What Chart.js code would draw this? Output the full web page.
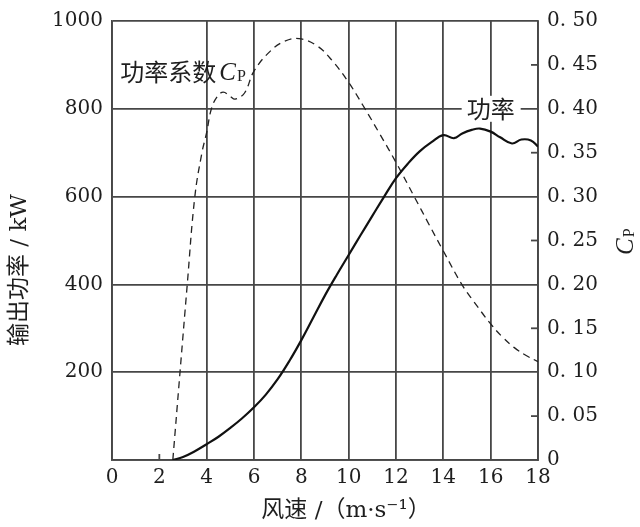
<!DOCTYPE html>
<html>
<head>
<meta charset="utf-8">
<script src="https://cdn.jsdelivr.net/npm/chart.js@4/dist/chart.umd.min.js"></script>
<style>
  html, body { margin: 0; padding: 0; background: #fff; }
  #wrap { width: 640px; height: 527px; position: relative; }
</style>
</head>
<body>
<div id="wrap"><canvas id="chart"></canvas></div>
<script>
// wind speed (m/s) and output power (kW) of the solid curve
const powerWind = [2.57, 3, 3.5, 4, 4.5, 5, 5.5, 6, 6.5, 7, 7.5, 8, 8.5, 9, 9.5, 10, 10.5, 11, 11.5, 12,
                   12.5, 13, 13.5, 14, 14.45, 14.8, 15.2, 15.55, 16, 16.4, 16.9, 17.3, 17.7, 18];
const powerKW = [0, 7, 20, 36, 53, 73, 95, 120, 149, 184, 226, 273, 324, 375, 422, 467, 512, 556, 600, 642,
                 675, 703, 724, 740, 733, 744, 752, 755, 748, 735, 721, 730, 728, 714];

// wind speed and power coefficient Cp of the dashed curve
const cpWind = [2.57, 3.18, 3.5, 3.8, 4, 4.2, 4.45, 4.7, 5.0, 5.2, 5.6, 6, 6.7, 7.3, 7.9, 8.65, 9.3, 10,
                10.6, 11.3, 12, 12.77, 13.4, 14, 14.78, 15.3, 16, 16.5, 17, 17.5, 18];
const cpValues = [0, 0.2, 0.3, 0.35, 0.373, 0.4, 0.414, 0.419, 0.414, 0.411, 0.418, 0.443, 0.466, 0.477, 0.48,
                  0.472, 0.455, 0.43, 0.404, 0.372, 0.339, 0.3, 0.268, 0.238, 0.2, 0.18, 0.155, 0.14, 0.128,
                  0.119, 0.112];

// axis ranges / tick marks
const windRange = [0, 18];
const powerRange = [0, 1000];
const cpRange = [0, 0.5];
const cpInnerTicks = [0.05, 0.15, 0.25, 0.35, 0.45];
const windInnerTicks = [2];

const gridColor = "#474747";
const textColor = "#1e1e1e";
const numFont = { family: "'DejaVu Serif'", size: 20 };
const mixFont = "'DejaVu Serif', 'Noto Sans CJK SC'";

function toPoints(xs, ys) {
    return xs.map((v, i) => ({ x: v, y: ys[i] }));
}

function drawCp(ctx, x, y, size) {
    ctx.textAlign = "left";
    ctx.textBaseline = "alphabetic";
    ctx.font = "italic " + size + "px 'Liberation Serif'";
    ctx.fillText("C", x, y);
    const w = ctx.measureText("C").width;
    ctx.font = Math.round(size * 0.62) + "px 'Liberation Serif'";
    ctx.fillText("P", x + w + 1, y + 1);
}

// extra marks and labels
const decorPlugin = {
    id: "decor",
    afterDraw(chart) {
        const { ctx, chartArea, scales } = chart;
        const { x, y, y1 } = scales;
        ctx.save();
        ctx.strokeStyle = gridColor;
        ctx.lineWidth = 1.8;
        cpInnerTicks.forEach(v => {
            const py = y1.getPixelForValue(v);
            ctx.beginPath();
            ctx.moveTo(chartArea.right, py);
            ctx.lineTo(chartArea.right - 7, py);
            ctx.stroke();
        });
        windInnerTicks.forEach(v => {
            const px = x.getPixelForValue(v);
            ctx.beginPath();
            ctx.moveTo(px, chartArea.bottom);
            ctx.lineTo(px, chartArea.bottom - 6);
            ctx.stroke();
        });

        // "功率" label sitting on the 800 line
        const lx = x.getPixelForValue(16);
        const ly = y.getPixelForValue(800);
        ctx.fillStyle = "#fff";
        ctx.fillRect(lx - 29, ly - 13, 59, 26);
        ctx.fillStyle = textColor;
        ctx.font = "24px 'Noto Sans CJK SC'";
        ctx.textAlign = "center";
        ctx.textBaseline = "middle";
        ctx.fillText("功率", lx, ly);

        // "功率系数Cp" label
        const cx = x.getPixelForValue(0.35);
        const cy = y.getPixelForValue(885);
        ctx.font = "24px 'Noto Sans CJK SC'";
        ctx.textAlign = "left";
        ctx.textBaseline = "middle";
        ctx.fillText("功率系数", cx, cy);
        const cw = ctx.measureText("功率系数").width;
        drawCp(ctx, cx + cw + 3, cy + 9, 25);

        // x title
        ctx.font = "23px " + mixFont;
        ctx.textAlign = "center";
        ctx.textBaseline = "middle";
        ctx.fillText("风速 /（m·s⁻¹）", 346, 511);

        // left title
        ctx.save();
        ctx.translate(20, 270);
        ctx.rotate(-Math.PI / 2);
        ctx.font = "23px " + mixFont;
        ctx.textAlign = "center";
        ctx.textBaseline = "middle";
        ctx.fillText("输出功率 / kW", 0, 0);
        ctx.restore();

        // right title Cp
        ctx.save();
        ctx.translate(625, 243);
        ctx.rotate(-Math.PI / 2);
        drawCp(ctx, -12, 8, 25);
        ctx.restore();

        ctx.restore();
    }
};

new Chart(document.getElementById("chart"), {
    type: "line",
    data: {
        datasets: [
            {
                label: "功率",
                data: toPoints(powerWind, powerKW),
                yAxisID: "y",
                borderColor: "#111",
                borderWidth: 2.2,
                pointRadius: 0,
                tension: 0.4,
                fill: false,
            },
            {
                label: "功率系数Cp",
                data: toPoints(cpWind, cpValues),
                yAxisID: "y1",
                borderColor: "#222",
                borderWidth: 1.3,
                borderDash: [7, 5],
                pointRadius: 0,
                tension: 0.4,
                fill: false,
            },
        ],
    },
    options: {
        responsive: true,
        maintainAspectRatio: false,
        animation: false,
        layout: { padding: { top: 14, left: 0, right: 0, bottom: 0 } },
        plugins: {
            legend: { display: false },
            tooltip: { enabled: false },
        },
        scales: {
            x: {
                type: "linear",
                min: windRange[0],
                max: windRange[1],
                afterFit: s => { s.height = 67; },
                ticks: { stepSize: 2, font: numFont, color: textColor, padding: 6, maxRotation: 0 },
                grid: {
                    drawTicks: false,
                    lineWidth: 1.8,
                    color: c => (c.tick && c.tick.value === 2 ? "rgba(0,0,0,0)" : gridColor),
                },
                border: { color: gridColor, width: 1.8 },
            },
            y: {
                position: "left",
                min: powerRange[0],
                max: powerRange[1],
                afterFit: s => { s.width = 112; },
                ticks: {
                    stepSize: 200,
                    font: numFont,
                    color: textColor,
                    padding: 9,
                    callback: v => (v === 0 ? "" : String(v)),
                },
                grid: { drawTicks: false, lineWidth: 1.8, color: gridColor },
                border: { color: gridColor, width: 1.8 },
            },
            y1: {
                position: "right",
                min: cpRange[0],
                max: cpRange[1],
                afterFit: s => { s.width = 102; },
                ticks: {
                    stepSize: 0.05,
                    font: numFont,
                    color: textColor,
                    padding: 9,
                    callback: v => (Math.abs(v) < 1e-9 ? "0" : v.toFixed(2).replace(".", ". ")),
                },
                grid: { drawOnChartArea: false, drawTicks: false },
                border: { color: gridColor, width: 1.8 },
            },
        },
    },
    plugins: [decorPlugin],
});
</script>
</body>
</html>
